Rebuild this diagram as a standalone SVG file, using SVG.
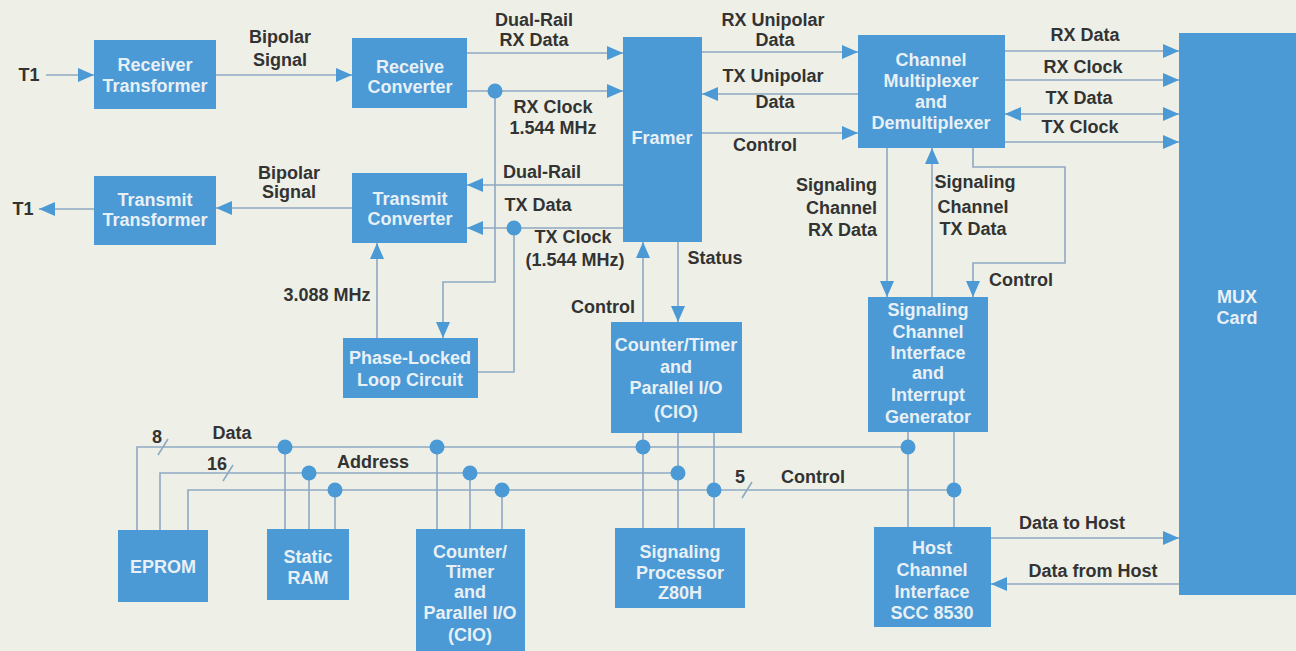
<svg xmlns="http://www.w3.org/2000/svg" width="1296" height="651" viewBox="0 0 1296 651">
<defs>
<style>
.bx{fill:#4b9ad5}
.bt{font-family:"Liberation Sans",Arial,sans-serif;font-weight:bold;font-size:18px;fill:#e8f0f6;text-anchor:middle}
.lb{font-family:"Liberation Sans",Arial,sans-serif;font-weight:bold;font-size:18px;fill:#333333;text-anchor:middle}
.ln{fill:none;stroke:#8ea9c2;stroke-width:1.6}
.dot{fill:#4b9ad5}
</style>
<marker id="ah" markerUnits="userSpaceOnUse" markerWidth="17" markerHeight="15" refX="16" refY="7" orient="auto-start-reverse">
<path d="M0,0 L16,7 L0,14 z" fill="#4b9ad5"/>
</marker>
</defs>
<rect width="1296" height="651" fill="#eef0e7"/>

<g id="connectors">
<line class="ln" x1="46" y1="75" x2="94" y2="75" marker-end="url(#ah)"/>
<line class="ln" x1="216" y1="75" x2="352" y2="75" marker-end="url(#ah)"/>
<line class="ln" x1="467" y1="53" x2="623" y2="53" marker-end="url(#ah)"/>
<line class="ln" x1="467" y1="91" x2="623" y2="91" marker-end="url(#ah)"/>
<path class="ln" d="M495,91 V282 H443 V338" marker-end="url(#ah)"/>
<line class="ln" x1="623" y1="185" x2="467" y2="185" marker-end="url(#ah)"/>
<line class="ln" x1="623" y1="228" x2="467" y2="228" marker-end="url(#ah)"/>
<path class="ln" d="M514,228 V372 H478"/>
<line class="ln" x1="377" y1="338" x2="377" y2="243" marker-end="url(#ah)"/>
<line class="ln" x1="352" y1="208" x2="216" y2="208" marker-end="url(#ah)"/>
<line class="ln" x1="94" y1="209" x2="39" y2="209" marker-end="url(#ah)"/>
<line class="ln" x1="702" y1="52" x2="858" y2="52" marker-end="url(#ah)"/>
<line class="ln" x1="858" y1="94" x2="702" y2="94" marker-end="url(#ah)"/>
<line class="ln" x1="702" y1="133" x2="858" y2="133" marker-end="url(#ah)"/>
<line class="ln" x1="887" y1="148" x2="887" y2="297" marker-end="url(#ah)"/>
<line class="ln" x1="932" y1="297" x2="932" y2="148" marker-end="url(#ah)"/>
<path class="ln" d="M973,148 V167 H1065 V263 H973 V297" marker-end="url(#ah)"/>
<line class="ln" x1="1005" y1="51" x2="1179" y2="51" marker-end="url(#ah)"/>
<line class="ln" x1="1005" y1="80" x2="1179" y2="80" marker-end="url(#ah)"/>
<line class="ln" x1="1005" y1="114" x2="1179" y2="114" marker-start="url(#ah)" marker-end="url(#ah)"/>
<line class="ln" x1="1005" y1="142" x2="1179" y2="142" marker-end="url(#ah)"/>
<line class="ln" x1="643" y1="322" x2="643" y2="242" marker-end="url(#ah)"/>
<line class="ln" x1="678" y1="242" x2="678" y2="322" marker-end="url(#ah)"/>
<path class="ln" d="M137,530 V447 H908"/>
<path class="ln" d="M160,530 V473 H678"/>
<path class="ln" d="M188,530 V490 H954"/>
<path class="ln" d="M285,447 V529 M309,473 V529 M335,490 V529 M437,447 V529 M470,473 V529 M502,490 V529 M643,433 V528 M678,433 V528 M714,433 V528 M908,432 V527 M954,432 V527"/>
<path class="ln" d="M158,455 L168,439 M223,481 L233,465 M742,498 L752,482"/>
<line class="ln" x1="991" y1="538" x2="1179" y2="538" marker-end="url(#ah)"/>
<line class="ln" x1="1179" y1="584" x2="991" y2="584" marker-end="url(#ah)"/>
<circle class="dot" cx="495" cy="91" r="7.5"/>
<circle class="dot" cx="514" cy="228" r="7.5"/>
<circle class="dot" cx="285" cy="447" r="7.5"/>
<circle class="dot" cx="309" cy="473" r="7.5"/>
<circle class="dot" cx="335" cy="490" r="7.5"/>
<circle class="dot" cx="437" cy="447" r="7.5"/>
<circle class="dot" cx="470" cy="473" r="7.5"/>
<circle class="dot" cx="502" cy="490" r="7.5"/>
<circle class="dot" cx="643" cy="447" r="7.5"/>
<circle class="dot" cx="678" cy="473" r="7.5"/>
<circle class="dot" cx="714" cy="490" r="7.5"/>
<circle class="dot" cx="908" cy="447" r="7.5"/>
<circle class="dot" cx="954" cy="490" r="7.5"/>
</g>

<g id="labels">
<text class="lb" x="29" y="81">T1</text>
<text class="lb" x="23" y="215">T1</text>
<text class="lb" x="280" y="43">Bipolar</text>
<text class="lb" x="280" y="66">Signal</text>
<text class="lb" x="289" y="179">Bipolar</text>
<text class="lb" x="289" y="198">Signal</text>
<text class="lb" x="534" y="26">Dual-Rail</text>
<text class="lb" x="534" y="46">RX Data</text>
<text class="lb" x="553" y="113">RX Clock</text>
<text class="lb" x="553" y="134">1.544 MHz</text>
<text class="lb" x="542" y="178">Dual-Rail</text>
<text class="lb" x="538" y="211">TX Data</text>
<text class="lb" x="573" y="243">TX Clock</text>
<text class="lb" x="575" y="266">(1.544 MHz)</text>
<text class="lb" x="327" y="301">3.088 MHz</text>
<text class="lb" x="603" y="313">Control</text>
<text class="lb" x="715" y="264">Status</text>
<text class="lb" x="773" y="26">RX Unipolar</text>
<text class="lb" x="775" y="46">Data</text>
<text class="lb" x="773" y="82">TX Unipolar</text>
<text class="lb" x="775" y="108">Data</text>
<text class="lb" x="765" y="151">Control</text>
<text class="lb" x="877" y="191" style="text-anchor:end">Signaling</text>
<text class="lb" x="877" y="214" style="text-anchor:end">Channel</text>
<text class="lb" x="877" y="236" style="text-anchor:end">RX Data</text>
<text class="lb" x="975" y="188">Signaling</text>
<text class="lb" x="973" y="213">Channel</text>
<text class="lb" x="973" y="235">TX Data</text>
<text class="lb" x="1021" y="286">Control</text>
<text class="lb" x="1085" y="41">RX Data</text>
<text class="lb" x="1083" y="73">RX Clock</text>
<text class="lb" x="1079" y="104">TX Data</text>
<text class="lb" x="1080" y="133">TX Clock</text>
<text class="lb" x="232" y="439">Data</text>
<text class="lb" x="157" y="443">8</text>
<text class="lb" x="217" y="470">16</text>
<text class="lb" x="373" y="468">Address</text>
<text class="lb" x="740" y="483">5</text>
<text class="lb" x="813" y="483">Control</text>
<text class="lb" x="1072" y="529">Data to Host</text>
<text class="lb" x="1093" y="577">Data from Host</text>
</g>

<g id="receiver-transformer"><rect class="bx" x="94" y="40" width="122" height="69"/><text class="bt" x="155" y="71">Receiver</text><text class="bt" x="155" y="92">Transformer</text></g>
<g id="transmit-transformer"><rect class="bx" x="94" y="176" width="122" height="69"/><text class="bt" x="155" y="206">Transmit</text><text class="bt" x="155" y="226">Transformer</text></g>
<g id="receive-converter"><rect class="bx" x="352" y="38" width="115" height="70"/><text class="bt" x="410" y="73">Receive</text><text class="bt" x="410" y="93">Converter</text></g>
<g id="transmit-converter"><rect class="bx" x="352" y="173" width="115" height="70"/><text class="bt" x="410" y="205">Transmit</text><text class="bt" x="410" y="225">Converter</text></g>
<g id="framer"><rect class="bx" x="623" y="37" width="79" height="205"/><text class="bt" x="662" y="144">Framer</text></g>
<g id="channel-mux"><rect class="bx" x="858" y="35" width="147" height="113"/><text class="bt" x="931" y="66">Channel</text><text class="bt" x="931" y="87">Multiplexer</text><text class="bt" x="931" y="108">and</text><text class="bt" x="931" y="129">Demultiplexer</text></g>
<g id="pll"><rect class="bx" x="343" y="338" width="135" height="60"/><text class="bt" x="410" y="364">Phase-Locked</text><text class="bt" x="410" y="386">Loop Circuit</text></g>
<g id="cio-top"><rect class="bx" x="611" y="322" width="131" height="111"/><text class="bt" x="676" y="351">Counter/Timer</text><text class="bt" x="676" y="373">and</text><text class="bt" x="676" y="394">Parallel I/O</text><text class="bt" x="676" y="418">(CIO)</text></g>
<g id="signaling-interface"><rect class="bx" x="868" y="297" width="120" height="135"/><text class="bt" x="928" y="316">Signaling</text><text class="bt" x="928" y="338">Channel</text><text class="bt" x="928" y="359">Interface</text><text class="bt" x="928" y="379">and</text><text class="bt" x="928" y="401">Interrupt</text><text class="bt" x="928" y="423">Generator</text></g>
<g id="mux-card"><rect class="bx" x="1179" y="33" width="117" height="562"/><text class="bt" x="1237" y="303">MUX</text><text class="bt" x="1237" y="324">Card</text></g>
<g id="eprom"><rect class="bx" x="118" y="530" width="90" height="72"/><text class="bt" x="163" y="573">EPROM</text></g>
<g id="static-ram"><rect class="bx" x="267" y="529" width="82" height="71"/><text class="bt" x="308" y="563">Static</text><text class="bt" x="308" y="584">RAM</text></g>
<g id="cio-bottom"><rect class="bx" x="416" y="529" width="109" height="122"/><text class="bt" x="470" y="558">Counter/</text><text class="bt" x="470" y="578">Timer</text><text class="bt" x="470" y="598">and</text><text class="bt" x="470" y="619">Parallel I/O</text><text class="bt" x="470" y="641">(CIO)</text></g>
<g id="signaling-processor"><rect class="bx" x="615" y="528" width="130" height="80"/><text class="bt" x="680" y="558">Signaling</text><text class="bt" x="680" y="579">Processor</text><text class="bt" x="680" y="599">Z80H</text></g>
<g id="host-interface"><rect class="bx" x="874" y="527" width="117" height="100"/><text class="bt" x="932" y="554">Host</text><text class="bt" x="932" y="576">Channel</text><text class="bt" x="932" y="598">Interface</text><text class="bt" x="932" y="619">SCC 8530</text></g>
</svg>
